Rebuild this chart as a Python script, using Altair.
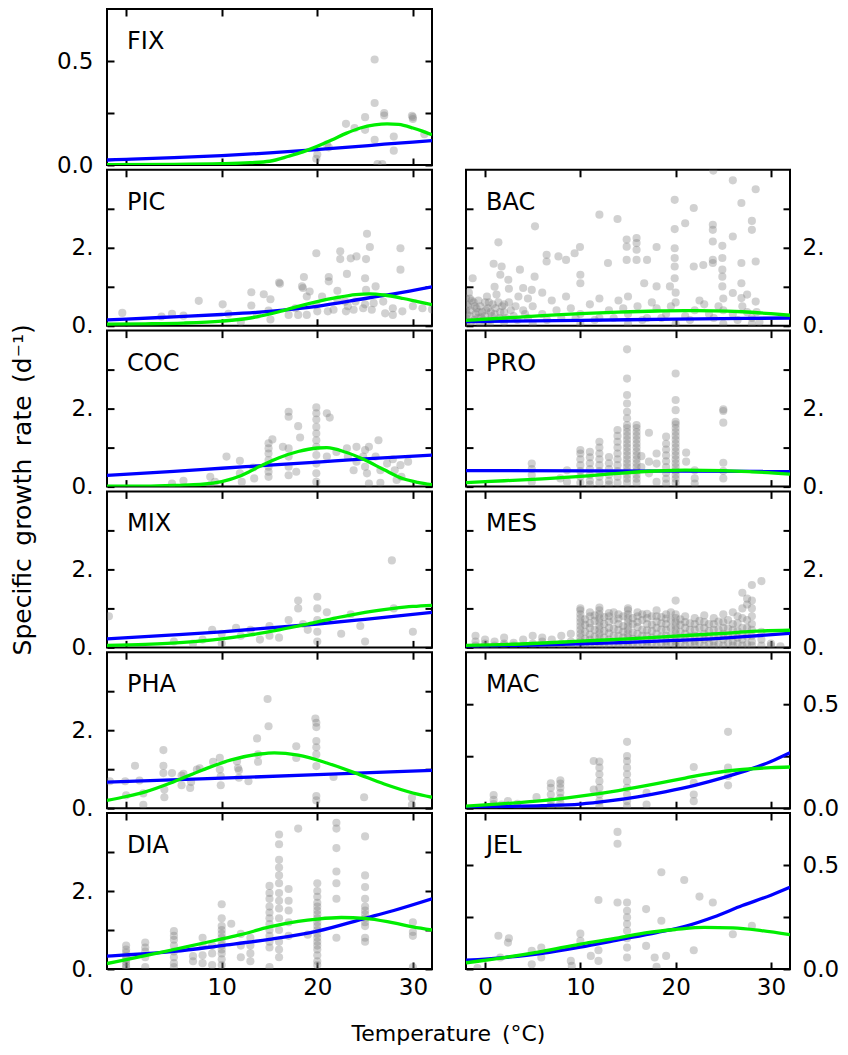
import altair as alt
import pandas as pd

FONT = "DejaVu Sans"
X_DOMAIN = [-2, 32]
X_TICKS = [0, 10, 20, 30]
BIG_DOMAIN = [0, 4]
BIG_TICKS = [0, 1, 2, 3]
SMALL_DOMAIN = [0, 0.75]
SMALL_TICKS = [0, 0.25, 0.5]

# ---------------- FIX ----------------
FIX_PTS = [[26.0, 0.507], [26.0, 0.298], [23.0, 0.198], [23.9, 0.177], [25.0, 0.23], [25.0, 0.169],
           [27.0, 0.25], [27.0, 0.238], [26.0, 0.121], [28.0, 0.137], [28.0, 0.069], [29.9, 0.237],
           [30.0, 0.221], [31.2, 0.148], [21.0, 0.1], [19.9, 0.03], [26.3, 0.005], [26.8, 0.004],
           [20.0, 0.05], [21.2, 0.085], [30.0, 0.23]]
FIX_BLUE = [[-2, 0.024], [0, 0.027], [5, 0.035], [10, 0.045], [15, 0.058], [20, 0.074], [24, 0.088],
            [27, 0.1], [30, 0.11], [32, 0.117]]
FIX_GREEN = [[-2, 0.002], [5, 0.003], [10, 0.006], [13, 0.011], [15, 0.018], [17, 0.042], [18.5, 0.063],
             [20, 0.09], [21.5, 0.12], [23, 0.152], [24.5, 0.178], [26, 0.193], [27.3, 0.198],
             [28.5, 0.195], [30, 0.178], [31, 0.163], [32, 0.145]]

# ---------------- PIC ----------------
PIC_PTS = [[-0.4, 0.33], [4.8, 0.31], [3.7, 0.24], [6.0, 0.26], [7.6, 0.64], [10.1, 0.55], [10.7, 0.31],
           [13.1, 0.86], [13.1, 0.52], [14.4, 0.81], [13.7, 0.28], [15.1, 0.68], [14.9, 0.39],
           [16.0, 1.11], [16.1, 1.08], [15.1, 0.16], [17.0, 0.28], [17.7, 0.45], [18.0, 0.28],
           [18.6, 1.25], [18.4, 1.01], [18.5, 0.97], [18.9, 0.75], [19.2, 0.88], [19.9, 1.86],
           [20.0, 0.37], [21.2, 1.25], [21.2, 1.14], [21.1, 0.37], [22.1, 0.9], [22.1, 0.67],
           [22.4, 1.91], [22.4, 1.71], [23.0, 0.37], [23.1, 1.33], [23.5, 1.73], [24.1, 1.78],
           [24.0, 0.62], [24.8, 0.45], [25.1, 1.71], [25.2, 2.36], [25.5, 2.02], [25.0, 1.22],
           [25.1, 0.92], [25.9, 0.58], [26.1, 1.01], [25.7, 0.41], [26.9, 0.62], [27.1, 0.32],
           [27.9, 0.45], [27.9, 0.28], [28.7, 1.99], [28.7, 1.44], [28.9, 0.37], [30.0, 0.5],
           [31.0, 0.45], [32.0, 0.42], [22.9, 0.62], [19.9, 0.54], [21.7, 0.41], [18.9, 0.28],
           [23.2, 0.5], [23.8, 0.41], [12.0, 0.1], [25.0, 0.55], [20.5, 0.75]]
PIC_BLUE = [[-2, 0.15], [0, 0.17], [5, 0.23], [10, 0.29], [15, 0.37], [20, 0.5], [25, 0.7], [28, 0.82], [32, 1.0]]
PIC_GREEN = [[-2, 0.04], [2, 0.05], [6, 0.07], [10, 0.12], [13, 0.2], [16, 0.36], [18, 0.5], [20, 0.62],
             [22, 0.72], [24, 0.8], [25.5, 0.82], [27, 0.79], [29, 0.7], [30.5, 0.62], [32, 0.54]]

# ---------------- COC ----------------
COC_PTS = [[6.0, 0.15], [4.8, 0.08], [8.8, 0.25], [10.5, 0.77], [9.3, 0.12], [11.9, 0.66], [11.9, 0.34],
           [12.1, 0.12], [13.3, 0.49], [13.4, 0.21], [14.9, 1.11], [14.9, 0.98], [14.9, 0.85], [14.9, 0.68],
           [14.9, 0.51], [14.9, 0.38], [14.9, 0.25], [15.3, 1.21], [16.4, 1.02], [17.0, 1.92], [17.0, 1.79],
           [17.0, 0.98], [17.0, 0.77], [17.0, 0.51], [17.0, 0.29], [18.0, 1.55], [18.2, 1.26], [17.8, 0.38],
           [19.9, 2.03], [19.9, 1.88], [19.9, 1.72], [19.9, 1.53], [19.9, 1.36], [19.9, 1.19], [19.9, 1.02],
           [19.9, 0.81], [19.9, 0.59], [19.9, 0.34], [19.9, 0.12], [21.0, 1.88], [21.3, 1.77], [21.0, 0.77],
           [22.0, 0.89], [23.1, 0.98], [23.2, 0.77], [24.1, 1.02], [24.1, 0.64], [24.8, 0.77], [25.0, 0.94],
           [25.0, 0.51], [25.2, 0.34], [25.4, 1.02], [26.4, 1.19], [26.1, 0.77], [26.6, 0.42], [27.3, 0.59],
           [27.9, 0.7], [28.1, 0.42], [28.3, 0.17], [28.7, 0.55], [28.8, 0.25], [29.5, 0.64], [25.4, 0.08],
           [8.8, 0.04], [26.6, 0.1], [23.8, 0.42]]
COC_BLUE = [[-2, 0.29], [5, 0.39], [10, 0.47], [15, 0.55], [20, 0.63], [25, 0.71], [32, 0.81]]
COC_GREEN = [[-2, 0.01], [2, 0.01], [6, 0.04], [8, 0.06], [10, 0.13], [12, 0.28], [14, 0.52], [16, 0.74],
             [18, 0.9], [20, 0.99], [21, 1.0], [23, 0.88], [25, 0.68], [27, 0.43], [29, 0.2], [30.5, 0.11], [32, 0.05]]

# ---------------- MIX ----------------
MIX_PTS = [[-1.8, 0.8], [5, 0.15], [7, 0.1], [8, 0.2], [9, 0.45], [10, 0.35], [10, 0.1], [11.5, 0.5],
           [12, 0.3], [13, 0.45], [14, 0.2], [15, 0.55], [15, 0.3], [16, 0.25], [17, 0.7], [18, 1.0],
           [18, 1.2], [18.5, 0.6], [19, 0.45], [20, 1.3], [20, 1.0], [20, 0.7], [20, 0.4], [20, 0.15],
           [21, 0.9], [22.5, 0.35], [23.5, 0.85], [24.5, 0.55], [25, 0.15], [27.8, 2.23], [28, 1.0], [30, 0.4]]
MIX_BLUE = [[-2, 0.22], [5, 0.32], [10, 0.4], [15, 0.5], [20, 0.6], [25, 0.72], [32, 0.9]]
MIX_GREEN = [[-2, 0.05], [2, 0.08], [6, 0.13], [10, 0.22], [13, 0.32], [16, 0.45], [19, 0.6], [22, 0.76],
             [25, 0.9], [28, 1.0], [30, 1.05], [32, 1.08]]

# ---------------- PHA ----------------
PHA_PTS = [[-1.7, 0.69], [-0.1, 0.69], [0.0, 0.33], [0.93, 1.09], [1.4, 0.71], [1.8, 0.09], [1.8, 0.38],
           [3.9, 1.49], [3.9, 1.09], [3.9, 0.9], [4.0, 0.48], [4.0, 0.28], [4.8, 0.9], [5.8, 0.84],
           [5.8, 0.59], [6.0, 0.88], [6.7, 0.52], [6.8, 0.67], [7.4, 0.99], [7.7, 1.02], [9.1, 1.19],
           [9.8, 1.29], [9.8, 0.99], [9.9, 0.82], [9.9, 0.59], [11.6, 1.2], [11.7, 1.03], [11.8, 0.97],
           [11.8, 0.78], [12.8, 0.69], [13.7, 1.79], [13.8, 1.38], [13.8, 1.19], [14.8, 2.8], [14.9, 2.1],
           [17.8, 1.59], [17.8, 1.29], [19.8, 2.3], [19.9, 2.19], [19.9, 2.08], [19.9, 1.72], [19.9, 1.56],
           [19.9, 1.38], [19.9, 1.08], [19.9, 0.31], [19.9, 0.2], [21.7, 0.8], [24.9, 0.28], [29.9, 0.27],
           [29.9, 0.09]]
PHA_BLUE = [[-2, 0.67], [10, 0.77], [20, 0.86], [32, 0.97]]
PHA_GREEN = [[-2, 0.2], [0, 0.3], [2, 0.42], [5, 0.68], [8, 0.98], [11, 1.24], [14, 1.39], [15.5, 1.42],
             [18, 1.36], [21, 1.16], [24, 0.9], [27, 0.62], [30, 0.39], [32, 0.28]]

# ---------------- DIA ----------------
DIA_COLS = [
    (0, [0.6, 0.5, 0.42, 0.33, 0.25, 0.18, 0.1, 0.04]),
    (2, [0.68, 0.55, 0.45, 0.3, 0.05]),
    (5, [0.97, 0.85, 0.75, 0.6, 0.45, 0.3, 0.15, 0.05]),
    (7, [0.33, 0.2]),
    (8, [0.8, 0.6, 0.35, 0.15]),
    (9, [0.6, 0.4, 0.1]),
    (10, [1.66, 1.3, 1.1, 1.0, 0.9, 0.8, 0.7, 0.6, 0.5, 0.4, 0.25, 0.1]),
    (11, [1.16]),
    (12, [0.9, 0.6, 0.3]),
    (13, [0.8, 0.6, 0.4, 0.2]),
    (15, [2.13, 1.95, 1.8, 1.6, 1.45, 1.3, 1.15, 1.0, 0.85, 0.7, 0.55, 0.05]),
    (16, [3.45, 3.2, 2.8, 2.6, 2.4, 2.2, 1.95, 1.75, 1.55, 1.3, 1.0, 0.7, 0.5, 0.3]),
    (17, [2.05, 1.75, 1.5, 1.2, 0.85]),
    (18, [3.6]),
    (19, [0.88]),
    (20, [2.2, 2.0, 1.85, 1.7, 1.6, 1.5, 1.4, 1.3, 1.2, 1.1, 1.0, 0.9, 0.8, 0.7, 0.6, 0.5, 0.35, 0.2, 0.1]),
    (22, [3.75, 3.6, 3.1, 2.5, 2.2, 1.8, 0.8]),
    (25, [3.4, 2.4, 2.1, 1.8, 1.6, 1.5, 1.4, 1.3, 1.2, 1.1, 0.8, 0.7]),
    (30, [1.2, 0.95, 0.85, 0.05]),
]
DIA_BLUE = [[-2, 0.33], [0, 0.36], [5, 0.45], [10, 0.6], [15, 0.76], [20, 0.97], [25, 1.3], [28, 1.5], [32, 1.8]]
DIA_GREEN = [[-2, 0.14], [0, 0.24], [2, 0.34], [5, 0.5], [8, 0.66], [10, 0.77], [12, 0.88], [15, 1.08],
             [18, 1.22], [20, 1.28], [22.5, 1.32], [25, 1.3], [28, 1.18], [30, 1.08], [32, 1.0]]

# ---------------- BAC ----------------
BAC_PTS = [[-1.3, 1.22], [1.4, 2.14], [0.9, 1.59], [1.74, 1.52], [1.6, 1.31], [2.44, 1.18], [3.66, 1.44],
           [4.0, 0.97], [4.9, 0.92], [5.2, 1.26], [5.24, 2.55], [6.46, 1.82], [6.46, 1.65], [7.7, 1.78],
           [8.5, 1.69], [9.4, 1.86], [9.96, 2.02], [10.0, 1.31], [10.0, 1.09], [12.0, 2.85], [13.9, 2.74],
           [12.9, 1.61], [14.86, 2.21], [14.86, 2.03], [14.86, 1.69], [15.9, 2.25], [15.9, 2.12],
           [15.9, 1.95], [15.9, 1.69], [17.0, 1.69], [16.7, 1.09], [18.0, 2.02], [18.0, 1.01], [19.9, 3.23],
           [19.9, 2.48], [19.9, 1.99], [19.9, 1.74], [19.9, 1.52], [19.9, 1.22], [19.4, 1.01], [21.0, 2.63],
           [21.9, 3.02], [21.9, 1.52], [22.9, 1.56], [23.9, 2.59], [23.9, 2.46], [23.9, 2.16], [23.9, 1.69],
           [23.9, 1.61], [24.9, 2.05], [24.9, 1.74], [24.9, 1.44], [24.9, 1.26], [24.9, 1.01], [26.0, 2.29],
           [26.0, 3.73], [26.0, 0.84], [26.9, 3.15], [26.9, 1.61], [26.9, 1.09], [26.9, 0.71], [28.0, 2.69],
           [28.0, 2.46], [28.4, 3.5], [28.4, 1.65], [28.4, 0.62], [23.95, 3.98],
           [-2, 0.7], [-1.8, 0.5], [-1.5, 0.4], [-1.2, 0.6], [-1, 0.3], [-0.8, 0.2], [-0.5, 0.5],
           [-0.3, 0.35], [0, 0.6], [0, 0.25], [0.3, 0.45], [0.5, 0.15], [0.8, 0.55], [1, 0.3], [1.2, 0.8],
           [1.5, 0.2], [1.8, 0.5], [2, 0.35], [2.5, 0.6], [3, 0.25], [3.5, 0.75], [4, 0.4], [4.5, 0.2],
           [5, 0.5], [6, 0.3], [7, 0.65], [8, 0.2], [9, 0.45], [10, 0.3], [11, 0.55], [12, 0.2], [13, 0.4],
           [14, 0.65], [15, 0.3], [16, 0.5], [17, 0.2], [18, 0.45], [19, 0.3], [20, 0.6], [21, 0.25],
           [22, 0.4], [23, 0.55], [24, 0.2], [25, 0.4], [26, 0.3], [27, 0.5], [28, 0.2], [28.5, 0.35],
           [-1.5, 0.1], [-0.5, 0.05], [0.5, 0.05], [2, 0.1], [5, 0.05], [10, 0.05], [15, 0.05], [20, 0.05],
           [25, 0.05], [28, 0.05], [-2, 0.2], [-2, 0.4], [-1.7, 0.85], [0.2, 0.75], [1, 1.0], [2.5, 0.95],
           [4.5, 0.7], [6, 0.85], [8.5, 0.75], [12, 0.7], [15, 0.75], [17.5, 0.6], [20, 0.85], [22.5, 0.65],
           [25, 0.7], [27.5, 0.8], [-1.9, 0.3], [-1.4, 0.65], [-0.9, 0.45], [-0.2, 0.15], [0.6, 0.35],
           [1.4, 0.6], [2.2, 0.2], [3.2, 0.5],
           [-1.95, 0.55], [-1.95, 0.1], [-1.6, 0.25], [-1.6, 0.7], [-1.1, 0.15], [-1.1, 0.5], [-0.7, 0.35],
           [-0.7, 0.65], [-0.4, 0.22], [0.1, 0.4], [0.4, 0.6], [0.7, 0.25], [1.1, 0.45], [1.6, 0.35],
           [2.0, 0.55], [2.7, 0.4], [3.4, 0.15], [4.2, 0.3], [6.5, 0.15], [7.5, 0.4], [9.5, 0.2],
           [11.5, 0.15], [13.5, 0.2], [14.5, 0.45], [16.5, 0.15], [18.5, 0.2], [19.5, 0.5], [21.5, 0.15],
           [23.5, 0.3], [24.5, 0.5], [26.5, 0.15], [27.5, 0.35], [28.8, 0.1]]
BAC_BLUE = [[-2, 0.11], [10, 0.14], [20, 0.17], [32, 0.2]]
BAC_GREEN = [[-2, 0.14], [2, 0.2], [6, 0.26], [10, 0.31], [14, 0.35], [18, 0.38], [21, 0.39], [24, 0.385],
             [27, 0.36], [30, 0.31], [32, 0.27]]

# ---------------- PRO ----------------
PRO_COLS = [
    (4.9, [0.59, 0.45, 0.3, 0.12]),
    (7.9, [0.21]),
    (8.6, [0.42, 0.12]),
    (10, [0.94, 0.85, 0.7, 0.55, 0.4, 0.25, 0.1]),
    (11, [0.89, 0.75, 0.6, 0.45, 0.3, 0.15, 0.05]),
    (12, [1.15, 1.0, 0.85, 0.7, 0.55, 0.4, 0.25, 0.1]),
    (13, [0.76, 0.6, 0.45, 0.3, 0.15, 0.05]),
    (13.9, [1.45, 1.3, 1.15, 1.0, 0.85, 0.7, 0.55, 0.4, 0.25, 0.1]),
    (14.9, [3.52, 2.77, 2.35, 2.13, 1.92, 1.75, 1.58, 1.5, 1.4, 1.3, 1.2, 1.1, 1.0, 0.9, 0.8, 0.7,
            0.6, 0.5, 0.4, 0.3, 0.2, 0.1]),
    (15.9, [1.58, 1.5, 1.4, 1.3, 1.2, 1.1, 1.0, 0.9, 0.8, 0.7, 0.6, 0.5, 0.4, 0.3, 0.2, 0.1]),
    (16.4, [0.78, 0.5]),
    (17.2, [1.38, 0.64, 0.34]),
    (18, [0.85, 0.59, 0.12]),
    (19, [1.28, 1.1, 0.95, 0.8, 0.65, 0.5, 0.35, 0.2, 0.08]),
    (20, [2.9, 2.22, 1.96, 1.66, 1.6, 1.5, 1.4, 1.3, 1.2, 1.1, 1.0, 0.9, 0.8, 0.7, 0.6, 0.5, 0.4,
          0.3, 0.2, 0.1]),
    (21.1, [0.87, 0.64]),
    (22, [0.42, 0.21, 0.08]),
    (25, [1.98, 1.94, 1.64, 0.61, 0.4, 0.21]),
]
PRO_BLUE = [[-2, 0.41], [32, 0.39]]
PRO_GREEN = [[-2, 0.1], [2, 0.15], [6, 0.2], [10, 0.26], [14, 0.34], [18, 0.4], [21, 0.42], [25, 0.41],
             [28, 0.38], [32, 0.32]]

# ---------------- MES ----------------
MES_COLS = [
    (-1, [0.05, 0.15, 0.3]), (0, [0.04, 0.1, 0.2]), (1, [0.05, 0.15]), (2, [0.06, 0.1, 0.25]),
    (3, [0.05, 0.12]), (4, [0.04, 0.2]), (5, [0.05, 0.1, 0.3]), (6, [0.06, 0.15, 0.25]),
    (7, [0.05, 0.2]), (8, [0.04, 0.1, 0.3]), (9, [0.05, 0.15, 0.35]),
    (10, [0.05, 0.15, 0.25, 0.35, 0.45, 0.55, 0.65, 0.75, 0.85, 0.95, 1.0]),
    (10.5, [0.08, 0.22, 0.4, 0.58, 0.72]),
    (11, [0.06, 0.2, 0.33, 0.5, 0.62, 0.8, 0.9]),
    (11.5, [0.1, 0.28, 0.45, 0.68, 0.82]),
    (12, [0.05, 0.15, 0.25, 0.35, 0.45, 0.55, 0.65, 0.75, 0.85, 0.95, 1.02]),
    (12.5, [0.08, 0.25, 0.42, 0.6, 0.78]),
    (13, [0.04, 0.2, 0.36, 0.5, 0.66, 0.8, 0.88]),
    (13.5, [0.12, 0.3, 0.48, 0.7, 0.9]),
    (14, [0.05, 0.15, 0.3, 0.45, 0.6, 0.74, 0.85]),
    (14.5, [0.1, 0.25, 0.4, 0.55, 0.8]),
    (15, [0.05, 0.15, 0.25, 0.35, 0.45, 0.55, 0.65, 0.75, 0.85, 0.95, 1.0]),
    (15.5, [0.08, 0.22, 0.38, 0.6, 0.75]),
    (16, [0.06, 0.2, 0.35, 0.52, 0.65, 0.8, 0.9]),
    (16.5, [0.12, 0.3, 0.45, 0.7, 0.85]),
    (17, [0.05, 0.15, 0.3, 0.44, 0.6, 0.75, 0.86]),
    (17.5, [0.1, 0.25, 0.42, 0.58, 0.8]),
    (18, [0.04, 0.2, 0.35, 0.5, 0.66, 0.8, 0.95]),
    (18.5, [0.08, 0.28, 0.46, 0.62, 0.78]),
    (19, [0.05, 0.15, 0.3, 0.45, 0.6, 0.74, 0.85]),
    (19.5, [0.12, 0.3, 0.5, 0.7, 0.9]),
    (20, [0.05, 0.15, 0.25, 0.35, 0.45, 0.55, 0.65, 0.75, 0.85, 1.2]),
    (20.5, [0.1, 0.25, 0.4, 0.58, 0.72]),
    (21, [0.05, 0.2, 0.35, 0.5, 0.65, 0.8]),
    (21.5, [0.08, 0.28, 0.45, 0.62]),
    (22, [0.06, 0.15, 0.3, 0.45, 0.6, 0.75]),
    (22.5, [0.12, 0.3, 0.5, 0.68]),
    (23, [0.05, 0.2, 0.35, 0.5, 0.65, 0.82]),
    (23.5, [0.1, 0.25, 0.42, 0.6]),
    (24, [0.04, 0.15, 0.3, 0.45, 0.6, 0.75]),
    (24.5, [0.08, 0.28, 0.46, 0.66]),
    (25, [0.05, 0.2, 0.35, 0.5, 0.65, 0.85]),
    (25.5, [0.12, 0.3, 0.48, 0.7]),
    (26, [0.05, 0.15, 0.3, 0.45, 0.6, 0.9]),
    (26.5, [0.1, 0.25, 0.42, 0.62, 0.8]),
    (27, [0.05, 0.2, 0.35, 0.5, 0.75, 1.0, 1.4]),
    (27.5, [0.08, 0.28, 0.5, 0.7, 1.1, 1.25]),
    (28, [0.05, 0.15, 0.3, 0.45, 0.6, 0.8, 1.0, 1.2, 1.6]),
    (29, [0.05, 0.2, 0.4, 1.7]),
    (30, [0.05, 0.1]),
    (31, [0.03]),
]
MES_BLUE = [[-2, 0.03], [5, 0.06], [10, 0.09], [15, 0.13], [20, 0.18], [25, 0.24], [28, 0.29], [32, 0.36]]
MES_GREEN = [[-2, 0.05], [5, 0.1], [10, 0.16], [15, 0.22], [20, 0.29], [25, 0.36], [28, 0.41], [32, 0.44]]

# ---------------- MAC ----------------
MAC_PTS = [[0.9, 0.063], [0.9, 0.04], [0.9, 0.02], [0.9, 0.005], [1.74, 0.018], [2.4, 0.034], [3.4, 0.021],
           [3.4, 0.005], [5.4, 0.053], [6.9, 0.12], [6.9, 0.098], [6.9, 0.066], [6.9, 0.034], [6.9, 0.01],
           [7.9, 0.134], [7.9, 0.118], [7.9, 0.098], [7.9, 0.074], [7.9, 0.05], [7.9, 0.026], [7.9, 0.005],
           [11.4, 0.227], [11.4, 0.09], [12.0, 0.224], [12.0, 0.195], [12.0, 0.163], [12.0, 0.13],
           [12.0, 0.098], [12.0, 0.066], [12.0, 0.034], [12.0, 0.01], [14.9, 0.319], [14.9, 0.251],
           [14.9, 0.227], [14.9, 0.195], [14.9, 0.163], [14.9, 0.13], [14.9, 0.098], [14.9, 0.066],
           [14.9, 0.034], [14.9, 0.01], [16.95, 0.074], [16.95, 0.018], [21.9, 0.198], [21.9, 0.122],
           [21.9, 0.066], [21.9, 0.034], [25.5, 0.367], [25.5, 0.195], [25.5, 0.155], [25.5, 0.11]]
MAC_BLUE = [[-2, 0.005], [2, 0.008], [6, 0.012], [10, 0.02], [13, 0.035], [16, 0.055], [19, 0.08], [22, 0.11],
            [25, 0.147], [28, 0.19], [30, 0.225], [32, 0.267]]
MAC_GREEN = [[-2, 0.01], [2, 0.022], [6, 0.036], [10, 0.058], [14, 0.085], [18, 0.118], [21, 0.145],
             [24, 0.17], [27, 0.186], [30, 0.195], [32, 0.198]]

# ---------------- JEL ----------------
JEL_PTS = [[1.4, 0.16], [2.5, 0.148], [2.4, 0.127], [1.6, 0.055], [4.9, 0.087], [5.9, 0.103], [5.9, 0.055],
           [4.9, 0.023], [9.0, 0.039], [10.0, 0.17], [10.0, 0.135], [11.1, 0.063], [11.9, 0.332],
           [11.9, 0.09], [11.9, 0.039], [13.9, 0.659], [13.9, 0.602], [13.9, 0.32], [14.9, 0.32],
           [14.9, 0.28], [14.9, 0.248], [14.9, 0.216], [14.9, 0.184], [14.9, 0.148], [14.9, 0.103],
           [14.9, 0.055], [16.9, 0.288], [16.9, 0.111], [17.8, 0.055], [18.0, 0.01], [18.5, 0.465],
           [18.5, 0.232], [19.0, 0.063], [20.9, 0.428], [21.9, 0.09], [22.5, 0.348], [23.9, 0.32],
           [26.0, 0.167], [28.0, 0.208], [9.1, 0.015], [-0.8, 0.005]]
JEL_BLUE = [[-2, 0.042], [2, 0.055], [6, 0.075], [10, 0.105], [14, 0.14], [18, 0.175], [21, 0.205],
            [24, 0.25], [27, 0.305], [30, 0.355], [32, 0.393]]
JEL_GREEN = [[-2, 0.03], [2, 0.055], [6, 0.085], [10, 0.12], [14, 0.15], [17, 0.175], [20, 0.19],
             [23, 0.2], [26, 0.198], [29, 0.185], [32, 0.165]]


def flatten(cols):
    return [[t, v] for t, vs in cols for v in vs]


W_LEFT, W_RIGHT, H = 325, 324, 156
BLUE, GREEN, GREY = "#0000ff", "#00ee00", "#808080"
Y_TITLE = "Specific\u2002growth\u2002rate\u2002(d\u207b\u00b9)"
X_TITLE = "Temperature\u2002(°C)"


def panel(name, pts, blue, green, side, small, bottom, width, ytitle=False, xtitle=False):
    ydom = SMALL_DOMAIN if small else BIG_DOMAIN
    yticks = SMALL_TICKS if small else BIG_TICKS
    if small:
        expr = "datum.value == 0 ? '0.0' : (datum.value == 0.5 ? '0.5' : '')"
    else:
        expr = "datum.value == 0 ? '0.' : (datum.value == 2 ? '2.' : '')"
    other = "right" if side == "left" else "left"
    xs = alt.Scale(domain=X_DOMAIN, nice=False, zero=False)
    ys = alt.Scale(domain=ydom, nice=False, zero=False)

    xaxis_kw = dict(orient="bottom", values=X_TICKS, offset=-7, labels=bottom,
                    labelPadding=7, labelFlush=False, title=None)
    if xtitle:
        xaxis_kw.update(title=X_TITLE, titleX=341, titleY=71, titleAlign="center",
                        titleBaseline="middle", titleAnchor="start", titleFontSize=22)
    yaxis_kw = dict(orient=side, values=yticks, offset=-7, labelExpr=expr,
                    labelPadding=14 if side == "left" else 12, title=None)
    if ytitle:
        yaxis_kw.update(title=Y_TITLE, titleX=-92, titleY=-2, titleAngle=270,
                        titleAlign="center", titleBaseline="middle", titleAnchor="start", titleFontSize=25)

    pts_df = pd.DataFrame(pts, columns=["T", "v"])
    blue_df = pd.DataFrame(blue, columns=["T", "v"])
    green_df = pd.DataFrame(green, columns=["T", "v"])

    points = alt.Chart(pts_df).mark_circle(size=66, color=GREY, opacity=0.36, clip=True).encode(
        x=alt.X("T:Q", scale=xs, axis=alt.Axis(**xaxis_kw)),
        y=alt.Y("v:Q", scale=ys, axis=alt.Axis(**yaxis_kw)),
    )
    bline = alt.Chart(blue_df).mark_line(color=BLUE, strokeWidth=3.3, interpolate="monotone", clip=True).encode(
        x=alt.X("T:Q", scale=xs, axis=alt.Axis(orient="top", values=X_TICKS, offset=-7, labels=False, title=None)),
        y=alt.Y("v:Q", scale=ys, axis=alt.Axis(orient=other, values=yticks, offset=-7, labels=False, title=None)),
    )
    gline = alt.Chart(green_df).mark_line(color=GREEN, strokeWidth=3.3, interpolate="monotone", clip=True).encode(
        x=alt.X("T:Q", scale=xs, axis=None),
        y=alt.Y("v:Q", scale=ys, axis=None),
    )
    label = alt.Chart(pd.DataFrame({"name": [name]})).mark_text(
        align="left", baseline="alphabetic", font=FONT, fontSize=24, color="black"
    ).encode(x=alt.value(20), y=alt.value(40), text="name:N")

    return alt.layer(points, bline, gline, label).resolve_axis(
        x="independent", y="independent"
    ).properties(width=width, height=H)


placeholder = alt.Chart(pd.DataFrame({"a": [0]})).mark_point(opacity=0).encode(
    x=alt.value(160), y=alt.value(80)
).properties(width=W_RIGHT, height=H, view=alt.ViewBackground(strokeOpacity=0))

cells = [
    panel("FIX", FIX_PTS, FIX_BLUE, FIX_GREEN, "left", True, False, W_LEFT),
    placeholder,
    panel("PIC", PIC_PTS, PIC_BLUE, PIC_GREEN, "left", False, False, W_LEFT),
    panel("BAC", BAC_PTS, BAC_BLUE, BAC_GREEN, "right", False, False, W_RIGHT),
    panel("COC", COC_PTS, COC_BLUE, COC_GREEN, "left", False, False, W_LEFT),
    panel("PRO", flatten(PRO_COLS), PRO_BLUE, PRO_GREEN, "right", False, False, W_RIGHT),
    panel("MIX", MIX_PTS, MIX_BLUE, MIX_GREEN, "left", False, False, W_LEFT, ytitle=True),
    panel("MES", flatten(MES_COLS), MES_BLUE, MES_GREEN, "right", False, False, W_RIGHT),
    panel("PHA", PHA_PTS, PHA_BLUE, PHA_GREEN, "left", False, False, W_LEFT),
    panel("MAC", MAC_PTS, MAC_BLUE, MAC_GREEN, "right", True, False, W_RIGHT),
    panel("DIA", flatten(DIA_COLS), DIA_BLUE, DIA_GREEN, "left", False, True, W_LEFT, xtitle=True),
    panel("JEL", JEL_PTS, JEL_BLUE, JEL_GREEN, "right", True, True, W_RIGHT),
]

chart = alt.concat(*cells, columns=2, spacing={"row": 4.8, "column": 34}, bounds="flush").properties(
    padding={"left": 0, "top": -1, "right": 0, "bottom": 0}
).configure_view(
    stroke="black", strokeWidth=2
).configure_axis(
    labelFont=FONT, labelFontSize=23, labelColor="black",
    titleFont=FONT, titleFontSize=23, titleFontWeight="normal", titleColor="black",
    tickColor="black", tickWidth=2, tickSize=7, domain=False, grid=False,
)

chart.save("out.html", embed_options={"renderer": "svg", "actions": False})
